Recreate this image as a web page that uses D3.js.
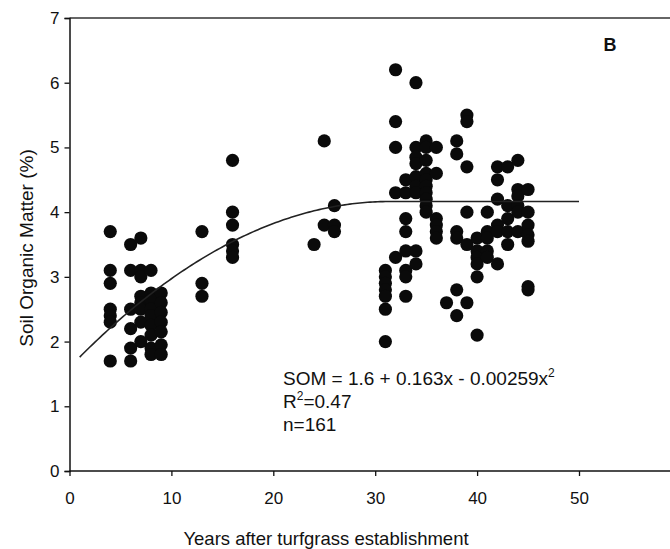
<!DOCTYPE html>
<html>
<head>
<meta charset="utf-8">
<script src="https://cdn.jsdelivr.net/npm/d3@7"></script>
<style>
  body { margin: 0; background: #fff; }
  svg { font-family: "Liberation Sans", Arial, sans-serif; }
</style>
</head>
<body>
<svg id="chart" width="670" height="549"></svg>
<script>
// years after establishment, one entry per sampled site
const years = [
  4, 4, 4, 4, 4, 4, 4,
  6, 6, 6, 6, 6, 6,
  7, 7, 7, 7, 7, 7, 7, 7,
  8, 8, 8, 8, 8, 8, 8, 8, 8,
  9, 9, 9, 9, 9, 9, 9,
  13, 13, 13,
  16, 16, 16, 16, 16, 16,
  24, 25, 25, 26, 26, 26,
  31, 31, 31, 31, 31, 31, 31,
  32, 32, 32, 32, 32,
  33, 33, 33, 33, 33, 33, 33, 33,
  34, 34, 34, 34, 34, 34, 34, 34, 34,
  35, 35, 35, 35, 35, 35, 35, 35, 35, 35,
  36, 36, 36, 36, 36, 36,
  37,
  38, 38, 38, 38, 38, 38,
  39, 39, 39, 39, 39, 39,
  40, 40, 40, 40, 40, 40,
  41, 41, 41, 41, 41,
  42, 42, 42, 42, 42, 42,
  43, 43, 43, 43, 43,
  44, 44, 44, 44, 44, 44,
  45, 45, 45, 45, 45, 45, 45
];
// soil organic matter (%)
const som = [
  3.7, 3.1, 2.9, 2.5, 2.4, 2.3, 1.7,
  3.5, 3.1, 2.5, 2.2, 1.9, 1.7,
  3.6, 3.1, 3.0, 2.7, 2.6, 2.5, 2.3, 2.0,
  3.1, 2.75, 2.65, 2.5, 2.4, 2.25, 2.1, 1.9, 1.8,
  2.75, 2.6, 2.45, 2.3, 2.15, 1.95, 1.8,
  3.7, 2.9, 2.7,
  4.8, 4.0, 3.8, 3.5, 3.4, 3.3,
  3.5, 5.1, 3.8, 4.1, 3.8, 3.7,
  3.1, 3.0, 2.9, 2.8, 2.7, 2.5, 2.0,
  6.2, 5.4, 5.0, 4.3, 3.3,
  4.5, 4.3, 3.9, 3.7, 3.4, 3.1, 3.0, 2.7,
  6.0, 5.0, 4.85, 4.75, 4.55, 4.4, 4.3, 3.4, 3.2,
  5.1, 5.0, 4.8, 4.6, 4.5, 4.4, 4.3, 4.2, 4.1, 4.0,
  5.0, 4.6, 3.9, 3.8, 3.7, 3.6,
  2.6,
  5.1, 4.9, 3.7, 3.6, 2.8, 2.4,
  5.5, 5.4, 4.7, 4.0, 3.5, 2.6,
  3.6, 3.4, 3.3, 3.2, 3.0, 2.1,
  4.0, 3.7, 3.6, 3.4, 3.3,
  4.7, 4.5, 4.2, 3.8, 3.7, 3.2,
  4.7, 4.1, 3.9, 3.7, 3.5,
  4.8, 4.35, 4.25, 4.1, 4.0, 3.7,
  4.35, 4.0, 3.8, 3.65, 3.55, 2.85, 2.8
];
const xTicks = [0, 10, 20, 30, 40, 50];
const yTicks = [0, 1, 2, 3, 4, 5, 6, 7];
// quadratic-plateau fit
const coef = [1.6, 0.163, -0.00259];
const fitRange = [1, 50];

const svg = d3.select('#chart');
const padLeft = 69.5, padTop = 18, padBottom = 471;

const x = d3.scaleLinear().domain([0, 60]).range([padLeft, padLeft + 611.4]);
const y = d3.scaleLinear().domain([0, 7]).range([padBottom, padTop]);

const plot = svg.append('g');

// top frame line
plot.append('line')
    .attr('x1', padLeft).attr('x2', 670)
    .attr('y1', padTop).attr('y2', padTop)
    .attr('stroke', '#333').attr('stroke-width', 1.5);

const xAxis = plot.append('g')
    .attr('transform', `translate(0, ${padBottom})`)
    .call(d3.axisBottom(x).tickValues(xTicks).tickFormat(d3.format('d'))
        .tickSize(5).tickPadding(16));
xAxis.select('.domain').attr('d', `M${padLeft},0H670`);

const yAxis = plot.append('g')
    .attr('transform', `translate(${padLeft}, 0)`)
    .call(d3.axisLeft(y).tickValues(yTicks).tickFormat(d3.format('d'))
        .tickSize(5).tickPadding(5));

[xAxis, yAxis].forEach(a => {
    a.select('.domain').attr('stroke', '#111').attr('stroke-width', 1.5);
    a.selectAll('line').attr('stroke', '#111').attr('stroke-width', 1.3);
    a.selectAll('text').attr('font-size', 17).attr('fill', '#111')
        .attr('font-family', '"Liberation Sans", Arial, sans-serif');
});

// points
const pts = years.map((d, i) => ({ yr: d, v: som[i] }));
plot.append('g')
    .selectAll('circle')
    .data(pts)
    .enter()
    .append('circle')
    .attr('cx', d => x(d.yr))
    .attr('cy', d => y(d.v))
    .attr('r', 6.6)
    .attr('fill', '#0a0a0a');

// fitted curve
const xv = -coef[1] / (2 * coef[2]);
const fit = t => {
    const tt = Math.min(t, xv);
    return coef[0] + coef[1] * tt + coef[2] * tt * tt;
};
const curve = d3.range(fitRange[0], fitRange[1] + 0.01, 0.25).map(t => [t, fit(t)]);
plot.append('path')
    .datum(curve)
    .attr('fill', 'none')
    .attr('stroke', '#222')
    .attr('stroke-width', 1.6)
    .attr('d', d3.line().x(d => x(d[0])).y(d => y(d[1])));

// equation
const eq = svg.append('text')
    .attr('x', 283).attr('y', 385)
    .attr('font-size', 19).attr('fill', '#111');
eq.append('tspan').text('SOM = 1.6 + 0.163x - 0.00259x');
eq.append('tspan').attr('dy', -8).attr('font-size', 12).text('2');

const r2 = svg.append('text')
    .attr('x', 283).attr('y', 408)
    .attr('font-size', 19).attr('fill', '#111');
r2.append('tspan').text('R');
r2.append('tspan').attr('dy', -8).attr('font-size', 12).text('2');
r2.append('tspan').attr('dy', 8).text('=0.47');

svg.append('text')
    .attr('x', 283).attr('y', 431)
    .attr('font-size', 19).attr('fill', '#111')
    .text('n=161');

svg.append('text')
    .attr('x', 610).attr('y', 51)
    .attr('text-anchor', 'middle')
    .attr('font-size', 18).attr('font-weight', 'bold').attr('fill', '#111')
    .text('B');

svg.append('text')
    .attr('x', 326).attr('y', 545)
    .attr('text-anchor', 'middle')
    .attr('font-size', 18.5).attr('fill', '#111')
    .text('Years after turfgrass establishment');

svg.append('text')
    .attr('transform', `translate(33, 248) rotate(-90)`)
    .attr('text-anchor', 'middle')
    .attr('font-size', 19).attr('fill', '#111')
    .text('Soil Organic Matter (%)');
</script>
</body>
</html>
